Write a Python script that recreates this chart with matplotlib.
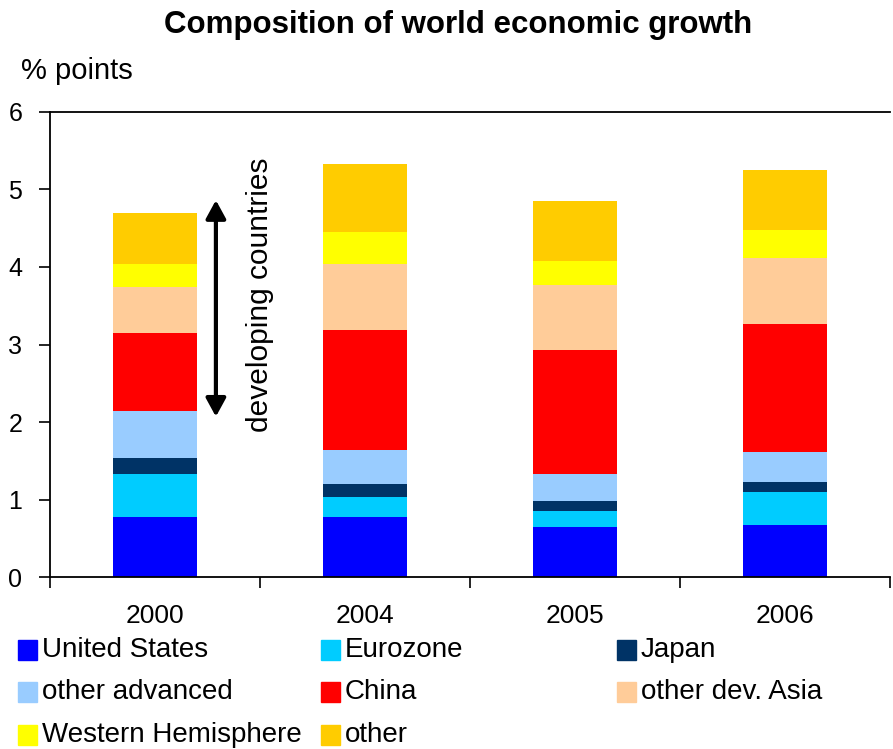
import numpy as np
import matplotlib
matplotlib.use("Agg")
from matplotlib import pyplot as plt
from matplotlib.patches import Rectangle

plt.rcParams["font.family"] = ["Liberation Sans", "DejaVu Sans"]

years = ["2000", "2004", "2005", "2006"]
regions = [
    "United States", "Eurozone", "Japan",
    "other advanced", "China", "other dev. Asia",
    "Western Hemisphere", "other",
]
colors = [
    "#0000FF", "#00CCFF", "#003366",
    "#99CCFF", "#FF0000", "#FFCC99",
    "#FFFF00", "#FFCC00",
]

# contributions to world growth, % points (one list per region, by year)
united_states = [0.78, 0.78, 0.65, 0.67]
eurozone = [0.55, 0.25, 0.20, 0.43]
japan = [0.21, 0.17, 0.13, 0.13]
other_advanced = [0.60, 0.44, 0.35, 0.39]
china = [1.01, 1.55, 1.60, 1.65]
other_dev_asia = [0.59, 0.85, 0.84, 0.85]
western_hemisphere = [0.30, 0.41, 0.31, 0.36]
other = [0.65, 0.88, 0.77, 0.77]

series = [united_states, eurozone, japan, other_advanced,
          china, other_dev_asia, western_hemisphere, other]

# arrow spanning the developing-country part of the 2000 bar
arrow_span = (2.07, 4.86)

fig = plt.figure(figsize=(8.93, 7.49), dpi=100)
ax = fig.add_axes([50 / 893, 1 - 577.3 / 749, 840 / 893, 465.6 / 749])

x = np.arange(len(years))
bottom = np.zeros(len(years))
for vals, col in zip(series, colors):
    ax.bar(x, vals, width=0.4, bottom=bottom, color=col, linewidth=0)
    bottom += np.array(vals)

ax.set_xlim(-0.5, 3.5)
ax.set_ylim(0, 6)
ax.set_yticks(range(7))
ax.set_xticks(x)
ax.set_xticklabels(years)
ax.set_xticks(np.arange(-0.5, 3.6, 1), minor=True)
ax.tick_params(axis="x", which="major", length=0, pad=19, labelsize=19)
ax.tick_params(axis="x", which="minor", length=8, width=1.2, direction="out")
ax.tick_params(axis="y", length=8, width=1.2, direction="out", pad=12, labelsize=18)
ax.spines["right"].set_visible(False)
for s in ("left", "bottom", "top"):
    ax.spines[s].set_linewidth(1.3)

ax.annotate("", xy=(0.29, arrow_span[1]), xytext=(0.29, arrow_span[0]),
            arrowprops=dict(arrowstyle="<|-|>,head_length=1.1,head_width=0.6",
                            color="black", lw=3, shrinkA=0, shrinkB=0))
ax.text(0.5, 3.64, "developing countries", rotation=90, ha="center",
        va="center", fontsize=21.5)

fig.text(0.513, 0.967, "Composition of world economic growth", ha="center",
         va="center", fontsize=22.5, fontweight="bold")
fig.text(0.024, 0.905, "% points", ha="left", va="center", fontsize=21)

# legend laid out in three columns, row by row
col_x = [18, 321, 617]
row_y = [650, 692, 735]
for i, (name, col) in enumerate(zip(regions, colors)):
    px = col_x[i % 3]
    py = row_y[i // 3]
    fig.patches.append(Rectangle((px / 893, 1 - (py + 10) / 749), 19 / 893, 20 / 749,
                                 transform=fig.transFigure, color=col, figure=fig))
    fig.text((px + 24) / 893, 1 - py / 749, name, ha="left", va="center", fontsize=20)

fig.savefig("out.png", dpi=100)
